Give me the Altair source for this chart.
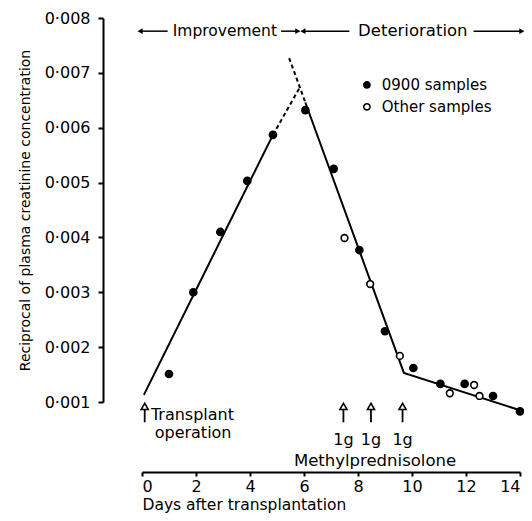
import altair as alt
import pandas as pd

FONT = "DejaVu Sans"

# Data
filled_days = [1.0, 1.9, 2.9, 3.9, 4.85, 6.05, 7.1, 8.05, 9.0, 10.05, 11.05, 11.95, 13.0, 14.0]
filled_vals = [0.00151, 0.00300, 0.00410, 0.00503, 0.00587, 0.00632, 0.00525, 0.00377,
               0.00229, 0.00162, 0.00133, 0.00133, 0.00111, 0.00083]
open_days = [7.5, 8.45, 9.55, 11.4, 12.3, 12.5]
open_vals = [0.00399, 0.00315, 0.00184, 0.00116, 0.00131, 0.00111]

# fitted lines
solid_seg = ["imp", "imp", "det", "det", "det"]
solid_days = [0.07, 4.85, 6.05, 9.7, 14.0]
solid_vals = [0.00113, 0.00587, 0.00646, 0.00153, 0.00085]
dash_seg = ["imp", "imp", "det", "det"]
dash_days = [4.85, 5.85, 5.45, 6.05]
dash_vals = [0.00587, 0.00674, 0.00727, 0.00646]

# top phase arrows
phase_y = 0.00776
phase_x1 = [-0.07, 5.15, 5.96, 12.28]
phase_x2 = [0.95, 5.77, 7.68, 14.07]
head_days = [-0.07, 5.77, 5.96, 14.07]
head_shape = ["triangle-left", "triangle-right", "triangle-left", "triangle-right"]
phase_labels = ["Improvement", "Deterioration"]
phase_label_days = [3.07, 10.03]
phase_label_sizes = [15.5, 16.5]

# bottom event arrows
event_days = [0.1, 7.46, 8.48, 9.65]
arrow_top = 0.00092
arrow_bottom = 0.00063
dose_labels = ["1g", "1g", "1g"]
dose_days = [7.46, 8.48, 9.65]
dose_val = 0.00030
note_labels = ["Transplant", "operation"]
note_days = [0.33, 0.47]
note_vals = [0.00076, 0.00043]
drug_label = "Methylprednisolone"
drug_day = 8.63
drug_val = -0.00007

legend_labels = ["0900 samples", "Other samples"]
legend_sym_day = 8.33
legend_txt_day = 8.88
legend_vals = [0.00678, 0.00638]

axis_style = dict(grid=False, domainColor="black", domainWidth=2, tickColor="black", tickWidth=2,
                  labelColor="black", titleColor="black", labelFont=FONT, titleFont=FONT,
                  titleFontWeight="normal", labelFontSize=16)

X = alt.X("day:Q",
          scale=alt.Scale(domain=[0, 14], nice=False, zero=False),
          axis=alt.Axis(values=list(range(0, 15, 2)), offset=70, tickSize=4, labelFlush=True,
                        titleAnchor="start", titlePadding=3, labelPadding=2,
                        titleFontSize=15.5, **axis_style),
          title="Days after transplantation")
Y = alt.Y("val:Q",
          scale=alt.Scale(domain=[0.001, 0.008], nice=False, zero=False),
          axis=alt.Axis(values=[0.001, 0.002, 0.003, 0.004, 0.005, 0.006, 0.007, 0.008],
                        offset=39, tickSize=5, labelPadding=8,
                        labelExpr="replace(format(datum.value, '.3f'), '.', '·')",
                        titlePadding=12, titleFontSize=14, **axis_style),
          title="Reciprocal of plasma creatinine concentration")

df_filled = pd.DataFrame({"day": filled_days, "val": filled_vals})
df_open = pd.DataFrame({"day": open_days, "val": open_vals})
df_solid = pd.DataFrame({"day": solid_days, "val": solid_vals, "seg": solid_seg})
df_dash = pd.DataFrame({"day": dash_days, "val": dash_vals, "seg": dash_seg})
df_phase = pd.DataFrame({"day": phase_x1, "day2": phase_x2, "val": [phase_y] * 4})
df_heads = pd.DataFrame({"day": head_days, "val": [phase_y] * 4, "shape": head_shape})
df_plab = pd.DataFrame({"day": phase_label_days, "val": [phase_y] * 2, "label": phase_labels,
                        "fs": phase_label_sizes})
df_ev = pd.DataFrame({"day": event_days, "val": [arrow_bottom] * 4, "val2": [arrow_top - 0.00004] * 4})
df_evh = pd.DataFrame({"day": event_days, "val": [arrow_top] * 4})
df_dose = pd.DataFrame({"day": dose_days, "val": [dose_val] * 3, "label": dose_labels})
df_note = pd.DataFrame({"day": note_days, "val": note_vals, "label": note_labels})
df_drug = pd.DataFrame({"day": [drug_day], "val": [drug_val], "label": [drug_label]})
df_legsym = pd.DataFrame({"day": [legend_sym_day] * 2, "val": legend_vals, "kind": ["filled", "open"]})
df_legtxt = pd.DataFrame({"day": [legend_txt_day] * 2, "val": legend_vals, "label": legend_labels})

solid = alt.Chart(df_solid).mark_line(color="black", strokeWidth=2).encode(
    x=X, y=Y, detail="seg:N")
dash = alt.Chart(df_dash).mark_line(color="black", strokeWidth=2, strokeDash=[4, 3]).encode(
    x=X, y=Y, detail="seg:N")
filled = alt.Chart(df_filled).mark_point(filled=True, color="black", size=75, opacity=1).encode(x=X, y=Y)
opn = alt.Chart(df_open).mark_point(filled=True, fill="white", stroke="black", strokeWidth=1.6,
                                    size=45, opacity=1).encode(x=X, y=Y)

phase = alt.Chart(df_phase).mark_rule(color="black", strokeWidth=1.5).encode(
    x=X, x2="day2:Q", y=Y)
heads = alt.Chart(df_heads).mark_point(filled=True, color="black", size=35, opacity=1).encode(
    x=X, y=Y, shape=alt.Shape("shape:N", scale=None))
plab = alt.Chart(df_plab).mark_text(font=FONT, color="black", baseline="middle").encode(
    x=X, y=Y, text="label:N", size=alt.Size("fs:Q", scale=None, legend=None))

ev = alt.Chart(df_ev).mark_rule(color="black", strokeWidth=1.8).encode(x=X, y=Y, y2="val2:Q")
evh = alt.Chart(df_evh).mark_point(shape="triangle-up", filled=True, fill="white", stroke="black",
                                   strokeWidth=1.6, size=50, opacity=1).encode(x=X, y=Y)
dose = alt.Chart(df_dose).mark_text(font=FONT, fontSize=16, color="black", baseline="middle").encode(
    x=X, y=Y, text="label:N")
note = alt.Chart(df_note).mark_text(font=FONT, fontSize=16, color="black", baseline="middle",
                                    align="left").encode(x=X, y=Y, text="label:N")
drug = alt.Chart(df_drug).mark_text(font=FONT, fontSize=16.5, color="black", baseline="middle").encode(
    x=X, y=Y, text="label:N")

legsym = alt.Chart(df_legsym).mark_point(filled=True, stroke="black", strokeWidth=1.5, size=40,
                                         opacity=1).encode(
    x=X, y=Y,
    fill=alt.Fill("kind:N", scale=alt.Scale(domain=["filled", "open"], range=["black", "white"]),
                  legend=None))
legtxt = alt.Chart(df_legtxt).mark_text(font=FONT, fontSize=15, color="black", baseline="middle",
                                        align="left").encode(x=X, y=Y, text="label:N")

chart = alt.layer(solid, dash, filled, opn, phase, heads, plab, ev, evh, dose, note, drug,
                  legsym, legtxt).properties(
    width=378, height=384, background="white",
    autosize=alt.AutoSizeParams(type="none"),
    padding={"top": 10, "left": 134, "right": 4, "bottom": 111},
).configure_view(stroke=None)

chart.save("out.html", embed_options={"renderer": "svg", "actions": False})
